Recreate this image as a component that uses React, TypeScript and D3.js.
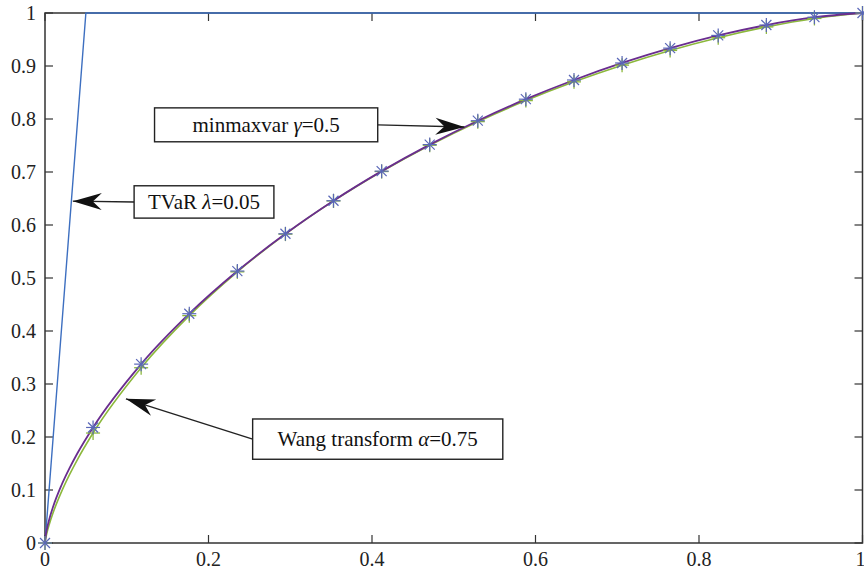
import React from "react";
import * as d3 from "d3";

// distortion functions g(u)
const uGrid = [0, 0.001, 0.0025, 0.005, 0.01, 0.02, 0.03, 0.04, 0.0588, 0.1176, 0.1765, 0.2353, 0.2941, 0.3529, 0.4118, 0.4706, 0.5294, 0.5882, 0.6471, 0.7059, 0.7647, 0.8235, 0.8824, 0.9412, 1];
const minmaxvar = [0, 0.015, 0.0274, 0.0435, 0.0688, 0.1085, 0.1412, 0.1702, 0.218, 0.3375, 0.4326, 0.5131, 0.5834, 0.6458, 0.7016, 0.7517, 0.7968, 0.8374, 0.8736, 0.9057, 0.9337, 0.9577, 0.9773, 0.9921, 1];
const wang = [0, 0.0096, 0.0198, 0.0339, 0.0575, 0.0961, 0.129, 0.1584, 0.2075, 0.3307, 0.429, 0.5116, 0.5828, 0.6454, 0.7009, 0.7505, 0.795, 0.8347, 0.8701, 0.9016, 0.9294, 0.9534, 0.9737, 0.9897, 1];
const tvarU = [0, 0.05, 1];
const tvarG = [0, 1, 1];
// markers are drawn every 1/17
const markerIdx = [0, 8, 9, 10, 11, 12, 13, 14, 15, 16, 17, 18, 19, 20, 21, 22, 23, 24];
const ticks = [0, 0.1, 0.2, 0.3, 0.4, 0.5, 0.6, 0.7, 0.8, 0.9, 1];
const xTickVals = [0, 0.2, 0.4, 0.6, 0.8, 1];

const W = 864, H = 574;
const m = { left: 45, right: 1.5, top: 13, bottom: 31 };

const x = d3.scaleLinear().domain([0, 1]).range([m.left, W - m.right]);
const y = d3.scaleLinear().domain([0, 1]).range([H - m.bottom, m.top]);

const line = d3.line<number>()
  .x((_, i) => x(uGrid[i]))
  .y(d => y(d))
  .curve(d3.curveMonotoneX);

const annotations = [
  { pre: "minmaxvar ", sym: "γ", post: "=0.5", box: [0.134, 0.821, 0.407, 0.757], tip: [0.513, 0.785], from: "right" },
  { pre: "TVaR ", sym: "λ", post: "=0.05", box: [0.109, 0.674, 0.28, 0.613], tip: [0.034, 0.645], from: "left" },
  { pre: "Wang transform ", sym: "α", post: "=0.75", box: [0.254, 0.234, 0.56, 0.158], tip: [0.099, 0.272], from: "left" },
];

function arrowHead(tx: number, ty: number, sx: number, sy: number) {
  const a = Math.atan2(ty - sy, tx - sx);
  const L = 29, hw = 8.5, notch = 20;
  const pt = (back: number, side: number) => {
    const px = tx - back * Math.cos(a) - side * Math.sin(a);
    const py = ty - back * Math.sin(a) + side * Math.cos(a);
    return `${px},${py}`;
  };
  return `M${tx},${ty} L${pt(L, hw)} L${pt(notch, 0)} L${pt(L, -hw)} Z`;
}

const txt = { fontFamily: "'Liberation Serif'" };

export default function App() {
  const axisCol = "#333";
  return (
    <div style={{ position: "absolute", left: 0, top: 0 }}>
      <svg width={W} height={H} style={{ display: "block", background: "#fff" }}>
        {/* ticks on all four sides, pointing in */}
        {ticks.map(t => (
          <g key={"y" + t} stroke={axisCol} strokeWidth={1.2}>
            <line x1={x(0)} x2={x(0) + 8} y1={y(t)} y2={y(t)} />
            <line x1={x(1)} x2={x(1) - 8} y1={y(t)} y2={y(t)} />
          </g>
        ))}
        {xTickVals.map(t => (
          <g key={"x" + t} stroke={axisCol} strokeWidth={1.2}>
            <line x1={x(t)} x2={x(t)} y1={y(0)} y2={y(0) - 8} />
            <line x1={x(t)} x2={x(t)} y1={y(1)} y2={y(1) + 8} />
          </g>
        ))}
        <rect x={x(0)} y={y(1)} width={x(1) - x(0)} height={y(0) - y(1)} fill="none" stroke={axisCol} strokeWidth={1.5} />
        {ticks.map(t => (
          <text key={"yl" + t} x={x(0) - 9} y={y(t)} dy="0.33em" textAnchor="end" fontSize={20} fill="#222" style={txt}>
            {d3.format("~g")(t)}
          </text>
        ))}
        {xTickVals.map(t => (
          <text key={"xl" + t} x={t === 1 ? x(t) - 2 : x(t)} y={y(0) + 23} textAnchor="middle" fontSize={20} fill="#222" style={txt}>
            {d3.format("~g")(t)}
          </text>
        ))}

        {/* curves */}
        <path d={d3.line<number>().x((_, i) => x(tvarU[i])).y(d => y(d))(tvarG) || ""} fill="none" stroke="#3d6fc0" strokeWidth={1.4} />
        <path d={line(wang) || ""} fill="none" stroke="#8cb83c" strokeWidth={1.6} />
        <path d={line(minmaxvar) || ""} fill="none" stroke="#6a2d8f" strokeWidth={1.8} />

        {/* markers */}
        {markerIdx.map(i => {
          const cx = x(uGrid[i]), cy = y(wang[i]);
          return (
            <g key={"p" + i} stroke="#8cb83c" strokeWidth={1.3}>
              <line x1={cx - 7} x2={cx + 7} y1={cy} y2={cy} />
              <line x1={cx} x2={cx} y1={cy - 7} y2={cy + 7} />
            </g>
          );
        })}
        {markerIdx.map(i => {
          const cx = x(uGrid[i]), cy = y(minmaxvar[i]);
          const r = 7, d = 5;
          return (
            <g key={"s" + i} stroke="#5a67b8" strokeWidth={1.2}>
              <line x1={cx - r} x2={cx + r} y1={cy} y2={cy} />
              <line x1={cx} x2={cx} y1={cy - r} y2={cy + r} />
              <line x1={cx - d} x2={cx + d} y1={cy - d} y2={cy + d} />
              <line x1={cx - d} x2={cx + d} y1={cy + d} y2={cy - d} />
            </g>
          );
        })}

        {/* annotations */}
        {annotations.map((a, k) => {
          const bx0 = x(a.box[0]), by0 = y(a.box[1]), bx1 = x(a.box[2]), by1 = y(a.box[3]);
          const tx = x(a.tip[0]), ty = y(a.tip[1]);
          const sx = a.from === "right" ? bx1 : bx0;
          const sy = (by0 + by1) / 2;
          return (
            <g key={"a" + k}>
              <line x1={sx} y1={sy} x2={tx} y2={ty} stroke="#222" strokeWidth={1.4} />
              <path d={arrowHead(tx, ty, sx, sy)} fill="#111" />
              <rect x={bx0} y={by0} width={bx1 - bx0} height={by1 - by0} fill="#fff" stroke="#222" strokeWidth={1.4} />
              <text x={(bx0 + bx1) / 2} y={sy} dy="0.33em" textAnchor="middle" fontSize={21} fill="#111" style={txt}>
                {a.pre}<tspan fontStyle="italic">{a.sym}</tspan>{a.post}
              </text>
            </g>
          );
        })}
      </svg>
    </div>
  );
}
